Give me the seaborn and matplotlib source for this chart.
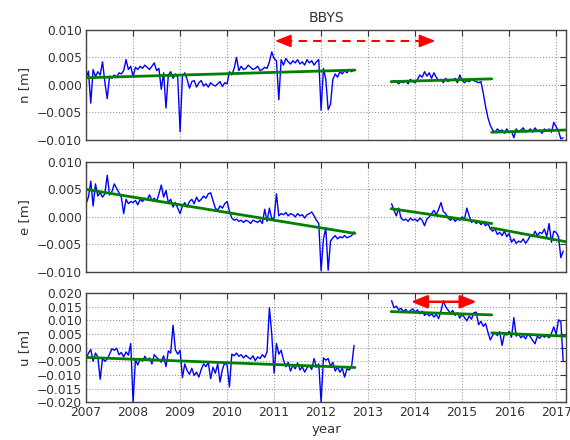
import numpy as np
import pandas as pd
import matplotlib
matplotlib.use("Agg")
import matplotlib.pyplot as plt
import seaborn as sns

# ---- station BBYS daily-ish position residuals, in millimetres ----
# first segment: 2007.00 .. 2012.70, second: 2013.50 .. 2017.15 (0.05 yr epochs)
seg1_start, seg2_start, step = 2007.0, 2013.5, 0.05

n_seg1 = ([1.2, 2.5, -3.3, 2.8, 1.5, 2.4, 1.8, 4.2, 0.5, -2.5, 1.6, 1.2, 1.8, 1.4, 2.2, 2.0, 2.6, 4.6, 2.8, 3.4]
          + [1.5, 3.2, 2.8, 3.4, 3.0, 3.6, 3.2, 2.8, 3.4, 4.0, 2.6, 3.0, -0.8, 2.2, -4.2, 1.8, 2.4, 1.2, 2.0, 1.4]
          + [-8.5, 1.6, 2.2, 1.0, -0.6, 0.6, 0.8, -0.4, 0.4, 0.8, -0.2, 0.2, -0.4, 0.4, 0.0, -0.2, 0.2, 0.6, -0.3, 0.4]
          + [0.2, 2.4, 1.8, 3.0, 5.0, 2.6, 3.4, 2.8, 3.0, 3.6, 3.2, 2.8, 3.0, 3.4, 2.6, 2.8, 3.2, 3.0, 4.2, 6.0]
          + [4.8, 4.4, -2.7, 4.6, 3.6, 4.8, 4.2, 3.8, 4.4, 4.0, 4.6, 3.8, 4.2, 3.6, 4.6, 4.0, 4.4, 3.6, 4.2, 4.6]
          + [-4.6, 3.0, 1.0, -4.5, -3.5, 1.0, 2.0, 1.4, 2.4, 2.0, 2.6, 2.2, 2.8, 2.4, 2.8])
n_seg2 = ([0.4, 0.8, 0.6, 0.2, 0.6, 0.4, 0.8, 0.2, 1.0, 0.6]
          + [0.4, 1.0, 1.8, 1.4, 2.4, 1.6, 2.2, 1.2, 2.2, 1.4, 0.8, 1.0, 0.4, 1.2, 0.6, 1.0, 0.8, 1.2, 0.4, 1.8]
          + [0.8, 0.4, 0.8, 0.6, 1.0, 0.8, 0.6, 0.4, 0.6, -1.5, -4.0, -6.0, -7.4, -8.2, -8.6, -8.0, -8.4, -8.2, -8.8, -8.0]
          + [-8.6, -8.4, -9.6, -8.0, -8.6, -8.2, -7.8, -8.6, -8.4, -8.0, -8.6, -7.8, -8.4, -8.2, -8.8, -8.0, -8.4, -8.0, -8.6, -6.8]
          + [-7.6, -8.4, -9.8, -9.6])

e_seg1 = ([2.4, 3.6, 6.5, 2.0, 6.0, 3.8, 4.4, 3.6, 4.2, 7.6, 4.0, 4.6, 6.0, 5.2, 4.4, 3.6, 0.6, 3.2, 2.4, 2.8]
          + [2.6, 3.0, 2.2, 3.2, 2.8, 3.4, 3.2, 4.0, 3.0, 3.4, 2.8, 4.2, 5.8, 3.6, 4.8, 2.6, 3.2, 1.8, 2.6, 1.6]
          + [0.6, 2.0, 2.6, 1.8, 2.8, 3.2, 2.4, 3.6, 2.8, 3.2, 3.8, 3.4, 4.2, 4.4, 3.0, 1.6, 1.2, 2.0, 1.6, 2.4]
          + [2.8, 1.0, -0.2, -0.6, -0.4, -0.8, -0.6, -1.0, -0.6, -0.8, -1.2, -0.6, -0.8, -1.0, -0.6, -1.2, 1.4, -0.8, 1.6, -0.4]
          + [-0.2, 4.2, 0.2, 0.6, 0.4, 0.8, 0.2, 0.6, 0.4, 0.0, 0.6, 0.2, 0.4, -0.2, 0.4, 0.6, 0.9, 0.2, -0.6, -1.2]
          + [-9.8, -4.0, -2.0, -9.7, -4.4, -3.8, -3.4, -4.0, -3.6, -3.8, -3.4, -3.8, -3.6, -3.4, -2.7])
e_seg2 = ([2.4, 1.2, 0.2, 1.6, -0.2, -0.6, -0.4, -0.8, -0.2, -0.6]
          + [-0.4, -0.8, -0.2, -0.6, -1.6, -0.4, 0.0, 0.6, 1.2, 0.4, 1.4, 2.6, 1.0, 0.6, -0.2, -0.6, -0.2, -0.8, -0.4, -0.6]
          + [0.0, -0.4, 1.6, 0.2, -1.0, -0.6, -1.2, -0.8, -1.4, -1.0, -1.6, -1.2, -2.2, -2.6, -2.2, -3.2, -2.8, -3.4, -2.6, -3.6]
          + [-3.0, -4.6, -4.0, -4.8, -4.4, -4.6, -4.0, -4.8, -4.2, -3.4, -3.6, -2.6, -3.4, -2.8, -3.0, -2.2, -3.6, -1.2, -4.6, -2.6]
          + [-2.8, -3.6, -7.4, -6.2])

u_seg1 = ([-4.6, -2.0, -0.7, -5.0, -2.0, -3.4, -11.6, -4.0, -5.0, -4.2, -2.4, -0.4, -1.0, -0.2, -2.6, -1.8, -3.4, -1.6, -2.8, 1.5]
          + [-20.0, -4.4, -6.4, -4.0, -5.0, -3.2, -4.6, -3.8, -6.0, -2.6, -3.6, -4.4, -5.4, -3.0, -7.0, -1.2, -2.0, 8.2, -0.8, -2.4]
          + [-1.0, -11.0, -6.0, -8.4, -9.8, -7.6, -10.2, -9.0, -10.8, -8.0, -6.0, -7.0, -5.4, -11.4, -7.2, -9.4, -6.0, -12.6, -8.0, -5.6]
          + [-6.4, -14.4, -2.4, -3.0, -2.0, -3.2, -2.6, -3.8, -2.8, -3.6, -4.2, -3.0, -4.8, -3.4, -4.0, -2.6, -3.6, -1.6, 14.6, 5.0]
          + [-9.4, 1.5, -2.4, -1.0, -4.6, -7.0, -5.4, -8.6, -6.4, -7.8, -5.6, -8.2, -7.0, -9.0, -7.4, -6.6, -8.0, -4.0, -7.2, -6.0]
          + [-20.0, -3.8, -4.6, -4.0, -6.8, -5.4, -8.6, -7.2, -9.0, -7.6, -10.8, -7.8, -8.2, -6.8, 0.8])
u_seg2 = ([17.2, 14.6, 15.2, 13.8, 14.4, 13.2, 14.0, 12.8, 13.6, 14.2]
          + [13.0, 13.8, 12.4, 13.4, 11.8, 12.6, 11.6, 12.4, 11.2, 12.2, 10.6, 13.4, 17.2, 15.0, 13.8, 12.6, 13.6, 11.8, 12.8, 10.8]
          + [12.4, 11.0, 9.8, 11.6, 10.4, 12.8, 13.0, 8.4, 9.6, 7.8, 8.8, 5.6, 2.8, 4.6, 5.4, 4.4, 5.8, 0.8, 5.0, 4.6]
          + [6.0, 3.8, 11.0, 4.2, 5.0, 3.6, 4.4, 3.2, 5.0, 4.0, 2.6, 1.4, 4.2, 3.4, 4.6, 3.8, 4.4, 3.6, 5.2, 7.6]
          + [4.8, 10.2, 9.4, -5.0])

# fitted linear trends: (start, end) epochs and values (mm) for each piece
trend_t = [(2007.0, 2012.72), (2013.49, 2015.63), (2015.63, 2017.2)]
n_trend = [(1.3, 2.7), (0.6, 1.1), (-8.6, -8.2)]
e_trend = [(5.0, -3.0), (1.5, -1.2), (-2.0, -4.5)]
u_trend = [(-3.6, -7.3), (13.2, 12.0), (5.4, 4.2)]

# periods of interest marked with arrows (years, metres)
n_period = (2011.02, 2014.43, 0.008)
u_period = (2013.91, 2015.31, 0.0168)

station = "BBYS"
year_ticks = list(range(2007, 2018))

sns.set_style("white")
plt.rcParams["font.family"] = ["DejaVu Sans"]
plt.rcParams["text.color"] = "#333333"
plt.rcParams["axes.labelcolor"] = "#333333"
plt.rcParams["xtick.color"] = "#333333"
plt.rcParams["ytick.color"] = "#333333"

fig = plt.figure(figsize=(5.7, 4.4), dpi=100)
boxes = [(0.151, 0.682, 0.842, 0.250),
         (0.151, 0.382, 0.842, 0.250),
         (0.151, 0.086, 0.842, 0.248)]

panels = [("n [m]", n_seg1, n_seg2, n_trend, (-0.010, 0.010), np.arange(-0.010, 0.0101, 0.005)),
          ("e [m]", e_seg1, e_seg2, e_trend, (-0.010, 0.010), np.arange(-0.010, 0.0101, 0.005)),
          ("u [m]", u_seg1, u_seg2, u_trend, (-0.020, 0.020), np.arange(-0.020, 0.0201, 0.005))]

axes = []
for box, (label, s1, s2, trend, ylim, yticks) in zip(boxes, panels):
    ax = fig.add_axes(box)
    axes.append(ax)
    for start, vals in ((seg1_start, s1), (seg2_start, s2)):
        df = pd.DataFrame({"t": np.round(start + step * np.arange(len(vals)), 3),
                           "v": np.asarray(vals) / 1000.0})
        sns.lineplot(data=df, x="t", y="v", ax=ax, color="#0000ff", lw=1.0,
                     estimator=None, sort=False)
    for (t0, t1), (v0, v1) in zip(trend_t, trend):
        tr = pd.DataFrame({"t": [t0, t1], "v": [v0 / 1000.0, v1 / 1000.0]})
        sns.lineplot(data=tr, x="t", y="v", ax=ax, color="#008000", lw=2.0,
                     estimator=None, sort=False)
    ax.set_xlim(2007.0, 2017.21)
    ax.set_ylim(*ylim)
    ax.set_yticks(yticks)
    ax.set_yticklabels([f"{v:.3f}".replace("-", "\u2212") for v in yticks])
    ax.set_xticks(year_ticks)
    ax.grid(True, color="0.6", ls=":", lw=0.8)
    ax.tick_params(direction="in", top=True, right=True, length=4, labelsize=8.8, pad=3)
    for sp in ax.spines.values():
        sp.set_color("#444444")
        sp.set_linewidth(1.0)
    ax.set_ylabel(label, fontsize=9.5, labelpad=4)
    ax.set_xlabel("")

for ax in axes[:2]:
    ax.set_xticklabels([])
axes[2].set_xticklabels([str(y) for y in year_ticks])
axes[2].set_xlabel("year", fontsize=9.5, labelpad=3)
axes[0].set_title(station, fontsize=10, pad=6, color="#333333")

# dashed double arrow on the north component
ax = axes[0]
x0, x1, y = n_period
ax.plot([x0 + 0.2, x1 - 0.2], [y, y], color="red", lw=1.5, ls=(0, (4, 3)))
head = dict(arrowstyle="-|>,head_length=0.7,head_width=0.28", color="red", lw=1.2,
            mutation_scale=14, shrinkA=0, shrinkB=0)
ax.annotate("", xy=(x0, y), xytext=(x0 + 0.3, y), arrowprops=head)
ax.annotate("", xy=(x1, y), xytext=(x1 - 0.3, y), arrowprops=head)

# solid double arrow on the up component
ax = axes[2]
x0, x1, y = u_period
ax.annotate("", xy=(x1, y), xytext=(x0, y),
            arrowprops=dict(arrowstyle="<|-|>,head_length=0.7,head_width=0.28", color="red",
                            lw=1.8, mutation_scale=14, shrinkA=0, shrinkB=0))

fig.savefig("out.png", dpi=100)
